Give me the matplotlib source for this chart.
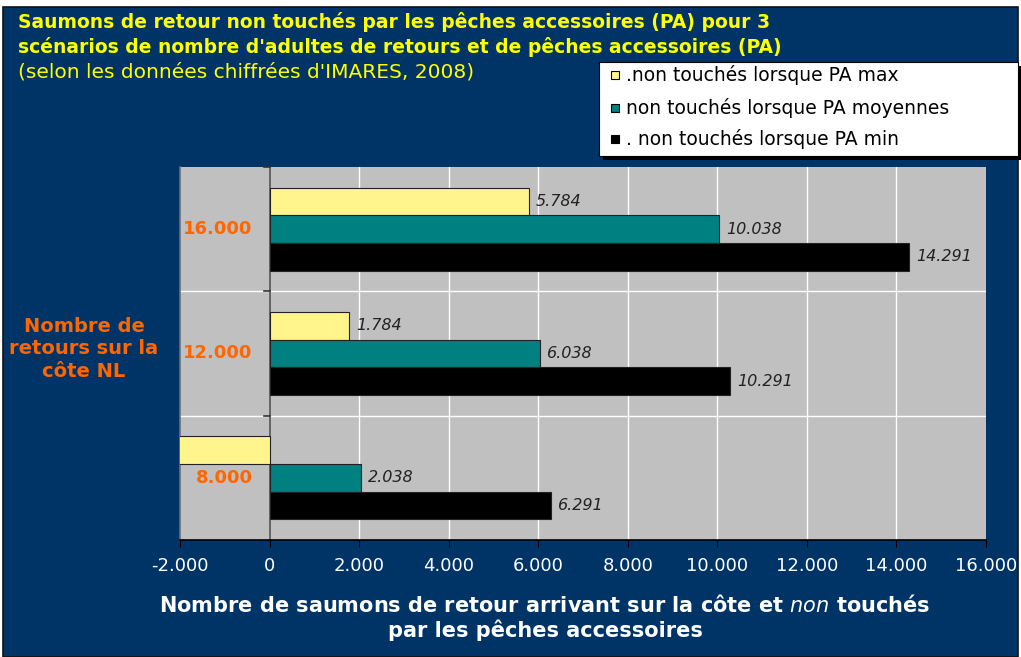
import matplotlib
matplotlib.use("Agg")
import matplotlib.pyplot as plt
import matplotlib.patches as patches
import numpy as np

# Scenarios: number of returning adults on the NL coast
categories = ["8.000", "12.000", "16.000"]
series_names = [".non touchés lorsque PA max",
                "non touchés lorsque PA moyennes",
                ". non touchés lorsque PA min"]
pa_max = [-2216, 1784, 5784]
pa_moy = [2038, 6038, 10038]
pa_min = [6291, 10291, 14291]
x_ticks = [-2000, 0, 2000, 4000, 6000, 8000, 10000, 12000, 14000, 16000]
x_tick_labels = ["-2.000", "0", "2.000", "4.000", "6.000", "8.000",
                 "10.000", "12.000", "14.000", "16.000"]

NAVY = "#003366"
PLOT_BG = "#C0C0C0"
ORANGE = "#FF6600"
colors = ["#FFF58C", "#008080", "#000000"]

plt.rcParams["font.family"] = ["DejaVu Sans"]
plt.rcParams["mathtext.fontset"] = "dejavusans"


def fmt(v):
    return f"{v / 1000:.3f}"


def main():
    fig = plt.figure(figsize=(10.21, 6.57), dpi=100, facecolor="white")
    W, H = 1021, 657

    # dark blue chart area with thin border
    fig.patches.append(patches.Rectangle((3 / W, 0), 1015 / W, 650 / H,
                                         transform=fig.transFigure,
                                         facecolor=NAVY, edgecolor="#111111",
                                         linewidth=1.2, zorder=-5))

    ax = fig.add_axes([180 / W, 117 / H, 806 / W, 373 / H])
    ax.set_facecolor(PLOT_BG)

    y = np.arange(len(categories))
    h = 0.223
    for vals, off, col in zip([pa_max, pa_moy, pa_min], [h, 0, -h], colors):
        bars = ax.barh(y + off, vals, height=h, color=col,
                       edgecolor="#222222", linewidth=0.8, zorder=3)
        for b, v in zip(bars, vals):
            if v < 0:
                continue
            ax.annotate(fmt(v), (v, b.get_y() + h / 2), xytext=(7, 0),
                        textcoords="offset pixels", va="center", ha="left",
                        fontsize=11.5, style="italic", color="#222222",
                        zorder=4)

    ax.set_xlim(-2000, 16000)
    ax.set_ylim(-0.5, 2.5)
    ax.set_xticks(x_ticks)
    ax.set_xticklabels(x_tick_labels, color="white", fontsize=13)
    ax.tick_params(axis="x", length=5, color="black", pad=7)

    # white grid: every 2000 and between the categories
    for xv in x_ticks[2:-1]:
        ax.axvline(xv, color="white", linewidth=1, zorder=1)
    for yv in [0.5, 1.5]:
        ax.axhline(yv, color="white", linewidth=1, zorder=1)

    # vertical axis crossing at 0, ticks at category boundaries
    ax.axvline(0, color="#555555", linewidth=1.2, zorder=2)
    ax.set_yticks([-0.5, 0.5, 1.5, 2.5])
    ax.set_yticklabels([])
    ax.tick_params(axis="y", length=0)
    for yv in [0.5, 1.5, 2.5]:
        ax.plot([-120, 0], [yv, yv], color="#333333", linewidth=1.2,
                clip_on=False, zorder=2)

    for i, c in enumerate(categories):
        ax.annotate(c, (0, y[i]), xytext=(-17, 0), textcoords="offset pixels",
                    ha="right", va="center", color=ORANGE,
                    fontsize=13, fontweight="bold", zorder=4)

    for s in ["top", "right"]:
        ax.spines[s].set_visible(False)
    ax.spines["left"].set_color("#707070")
    ax.spines["left"].set_linewidth(1.2)
    ax.spines["bottom"].set_color("black")
    ax.spines["bottom"].set_linewidth(1.2)

    # titles
    fig.text(18 / W, 1 - 22 / H,
             "Saumons de retour non touchés par les pêches accessoires (PA) pour 3",
             color="#FFFF00", fontsize=13.5, fontweight="bold", va="center")
    fig.text(18 / W, 1 - 47 / H,
             "scénarios de nombre d'adultes de retours et de pêches accessoires (PA)",
             color="#FFFF00", fontsize=13.5, fontweight="bold", va="center")
    fig.text(18 / W, 1 - 72 / H,
             "(selon les données chiffrées d'IMARES, 2008)",
             color="#FFFF00", fontsize=14.5, va="center")

    fig.text(84 / W, 1 - 349 / H, "Nombre de\nretours sur la\ncôte NL",
             color=ORANGE, fontsize=14, fontweight="bold",
             ha="center", va="center", linespacing=1.25)

    fig.text(545 / W, 1 - 605 / H,
             r"Nombre de saumons de retour arrivant sur la côte et $\mathit{non}$ touchés",
             color="white", fontsize=15, fontweight="bold",
             ha="center", va="center")
    fig.text(545 / W, 1 - 630 / H, "par les pêches accessoires",
             color="white", fontsize=15, fontweight="bold",
             ha="center", va="center")

    # legend box with shadow
    lx0, ly0, lx1, ly1 = 599, 62, 1018, 156
    fig.patches.append(patches.Rectangle(((lx0 + 4) / W, 1 - (ly1 + 4) / H),
                                         (lx1 - lx0) / W, (ly1 - ly0) / H,
                                         transform=fig.transFigure,
                                         facecolor="black", edgecolor="none",
                                         zorder=5))
    fig.patches.append(patches.Rectangle((lx0 / W, 1 - ly1 / H),
                                         (lx1 - lx0) / W, (ly1 - ly0) / H,
                                         transform=fig.transFigure,
                                         facecolor="white", edgecolor="black",
                                         linewidth=0.8, zorder=6))
    for name, col, yy in zip(series_names, colors, [75, 108, 139]):
        fig.patches.append(patches.Rectangle((611 / W, 1 - (yy + 4) / H),
                                             8 / W, 8 / H,
                                             transform=fig.transFigure,
                                             facecolor=col, edgecolor="black",
                                             linewidth=0.8, zorder=7))
        fig.text(626 / W, 1 - yy / H, name, color="black", fontsize=13.5,
                 va="center", ha="left", zorder=8)

    fig.savefig("out.png", dpi=100, facecolor="white")
    plt.close(fig)


if __name__ == "__main__":
    main()
